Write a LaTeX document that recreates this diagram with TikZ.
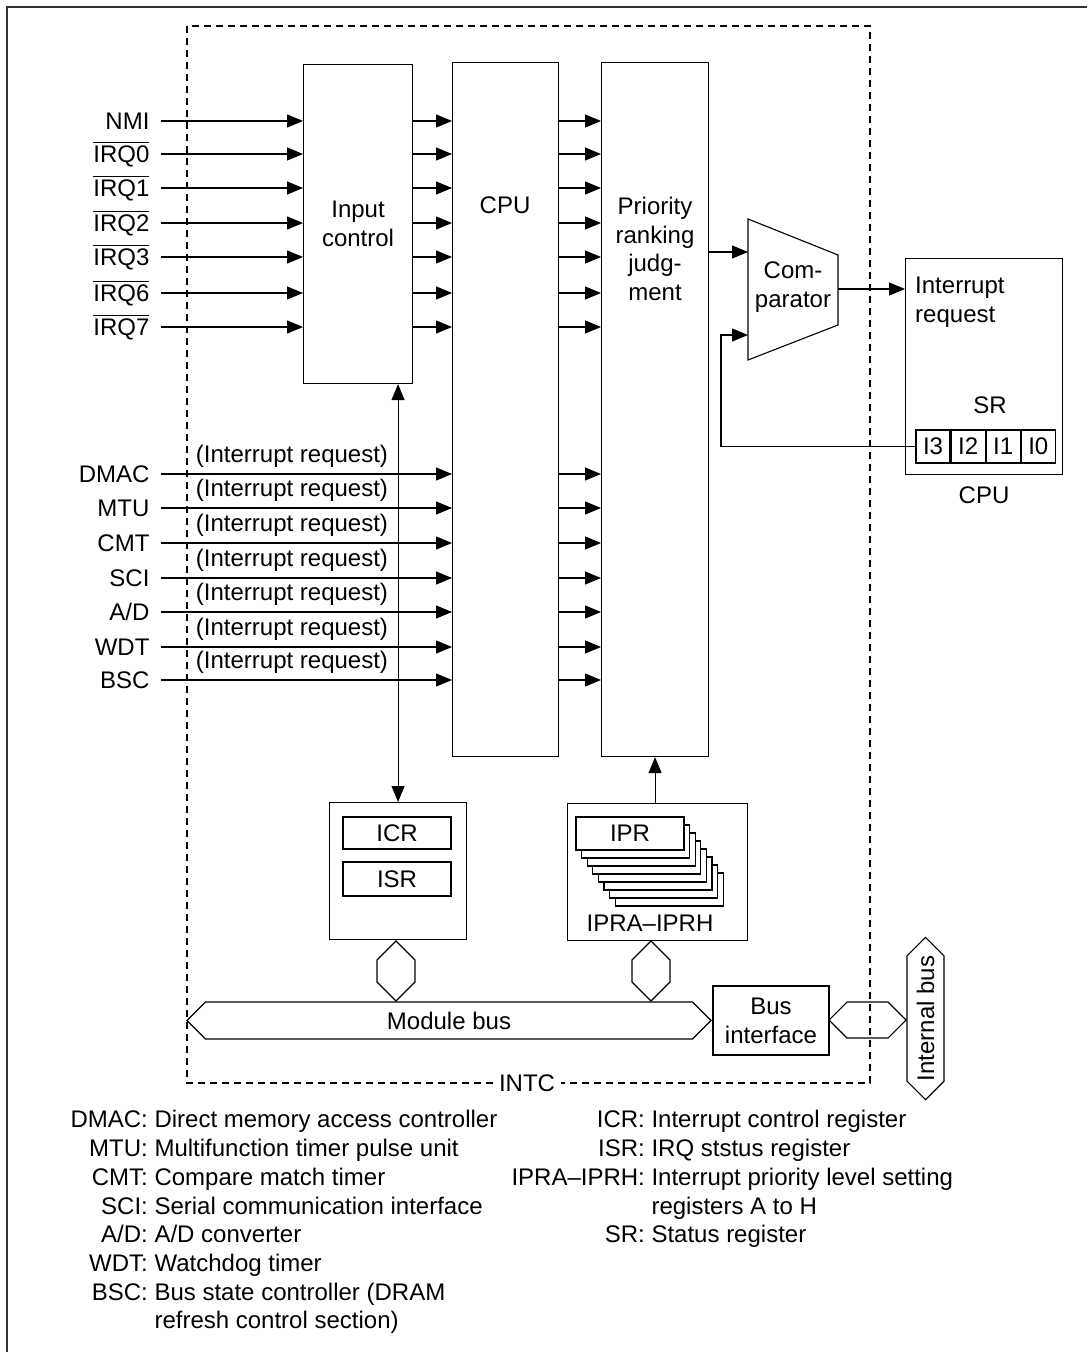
\documentclass[tikz,border=0pt]{standalone}
\usepackage{fontspec}
\setmainfont{Liberation Sans}
\usetikzlibrary{arrows.meta,positioning,shapes.symbols}

\begin{document}
\begin{tikzpicture}[x=0.5pt, y=-0.5pt, line width=0.55pt,
  font=\fontsize{12pt}{14.35pt}\selectfont,
  blk/.style={draw, inner sep=0pt, anchor=north west},
  reg/.style={draw, fill=white, inner sep=0pt, minimum width=54pt},
  cell/.style={draw, inner sep=0pt, minimum width=17pt, minimum height=16.5pt},
  bus/.style={draw, shape=signal, signal to=east and west, signal pointer angle=90, inner sep=0pt},
  arr/.style={-{Triangle[length=8pt,width=6.5pt]}},
  sig/.style={anchor=east, inner xsep=5.5pt, inner ysep=0pt}]
  \useasboundingbox (0,0) rectangle (1087,1352);
  \draw[line width=0.8pt, black!80] (7,1352) -- (7,7) -- (1087,7);

  % INTC frame
  \draw[dash pattern=on 3.5pt off 2.5pt] (187,26) rectangle (870,1083);
  \node[fill=white, inner xsep=3pt, inner ysep=1pt] (intc) at (527,1083) {INTC};

  \node[blk, minimum width=54.5pt, minimum height=159.5pt, align=center] (inctl) at (303,64) {Input\\control};
  \node[blk, minimum width=53pt, minimum height=347pt] (cpu) at (452,62) {};
  \node (cputxt) at (505,205) {CPU};
  \node[blk, minimum width=53.5pt, minimum height=347pt] (prj) at (601,62) {};
  \node[align=center] (prjtxt) at (655,249) {Priority\\ranking\\judg-\\ment};

  % external pins
  \foreach \y/\s [count=\i] in {121/NMI, 154/{$\overline{\mbox{IRQ0}}$}, 188/{$\overline{\mbox{IRQ1}}$},
      223/{$\overline{\mbox{IRQ2}}$}, 257/{$\overline{\mbox{IRQ3}}$}, 293/{$\overline{\mbox{IRQ6}}$},
      327/{$\overline{\mbox{IRQ7}}$}} {
    \node[sig] (irq\i) at (161,\y) {\s};
    \draw[arr] (irq\i.east) -- (irq\i.east -| inctl.west);
    \draw[arr] (irq\i.east -| inctl.east) -- (irq\i.east -| cpu.west);
    \draw[arr] (irq\i.east -| cpu.east) -- (irq\i.east -| prj.west);
  }
  % on-chip modules
  \foreach \y/\s [count=\i] in {474/DMAC, 508/MTU, 543/CMT, 578/SCI, 612/{A/D}, 647/WDT, 680/BSC} {
    \node[sig] (mod\i) at (161,\y) {\s};
    \draw[arr] (mod\i.east) -- node[pos=0.45, above, inner ysep=3pt] (req\i) {(Interrupt request)} (mod\i.east -| cpu.west);
    \draw[arr] (mod\i.east -| cpu.east) -- (mod\i.east -| prj.west);
  }

  % comparator
  \draw (748,219) -- (838,255) -- (838,325) -- (748,360) -- cycle;
  \node[align=center] (cmp) at (793,287) {Com-\\parator};
  \coordinate (cmpa) at (748,252);
  \coordinate (cmpb) at (748,335);
  \coordinate (cmpo) at (838,289);

  \node[blk, minimum width=78.5pt, minimum height=108pt] (cpur) at (905,258) {};
  \node[below=2pt of cpur] (cpurtxt) {CPU};
  \node[anchor=west, align=left] (irqreq) at (908,302) {Interrupt\\request};
  \node (srtxt) at (990,405) {SR};
  \node[cell] (sr3) at (933,446.5) {I3};
  \node[cell, right=0pt of sr3] (sr2) {I2};
  \node[cell, right=0pt of sr2] (sr1) {I1};
  \node[cell, right=0pt of sr1] (sr0) {I0};

  \draw[arr] (cmpa -| prj.east) -- (cmpa);
  \draw[arr] (cmpo) -- (cmpo -| cpur.west);
  \draw[arr] (sr3.west) -| ([xshift=-13.5pt]cmpb) -- (cmpb);

  % registers
  \node[blk, minimum width=68.5pt, minimum height=68.5pt] (icrbox) at (329,802) {};
  \node[reg, minimum height=16pt] (icr) at (397,833) {ICR};
  \node[reg, minimum height=17pt] (isr) at (397,879) {ISR};
  \draw[{Triangle[length=8pt,width=6.5pt]}-{Triangle[length=8pt,width=6.5pt]}] (icrbox.north) -- (icrbox.north |- inctl.south);

  \node[blk, minimum width=90pt, minimum height=68.5pt] (iprbox) at (567,803) {};
  \foreach \k in {7,...,1} \draw[fill=white] ({576+5.6*\k},{817+8*\k}) rectangle ++(108,33);
  \node[reg, minimum height=16.5pt] (ipr) at (630,833.5) {IPR};
  \node (iprtxt) at (650,923) {IPRA--IPRH};
  \draw[arr] (prj.south |- iprbox.north) -- (prj.south);

  % buses
  \node[bus, rotate=90, minimum width=30pt, minimum height=19pt] (stub1) at (396,971) {};
  \node[bus, rotate=90, minimum width=30pt, minimum height=19pt] (stub2) at (651,971) {};
  \node[bus, minimum width=262pt, minimum height=18.5pt] (mbus) at (449,1020.5) {Module bus};
  \node[draw, minimum width=58pt, minimum height=34.5pt, align=center, inner sep=0pt] (bif) at (771,1020.5) {Bus\\interface};
  \node[bus, minimum width=38.5pt, minimum height=18pt] (stub3) at (867.5,1020) {};
  \node[bus, rotate=90, minimum width=80.5pt, minimum height=18.5pt] (ibus) at (925.5,1018.5) {Internal bus};

  % key
  \node[anchor=north west, align=left, inner sep=0pt] (keyl) at (154,1110) {%
    \llap{DMAC:\ }Direct memory access controller\\
    \llap{MTU:\ }Multifunction timer pulse unit\\
    \llap{CMT:\ }Compare match timer\\
    \llap{SCI:\ }Serial communication interface\\
    \llap{A/D:\ }A/D converter\\
    \llap{WDT:\ }Watchdog timer\\
    \llap{BSC:\ }Bus state controller (DRAM\\
    refresh control section)};
  \node[anchor=north west, align=left, inner sep=0pt] (keyr) at (651,1110) {%
    \llap{ICR:\ }Interrupt control register\\
    \llap{ISR:\ }IRQ ststus register\\
    \llap{IPRA--IPRH:\ }Interrupt priority level setting\\
    registers A to H\\
    \llap{SR:\ }Status register};
\end{tikzpicture}
\end{document}
